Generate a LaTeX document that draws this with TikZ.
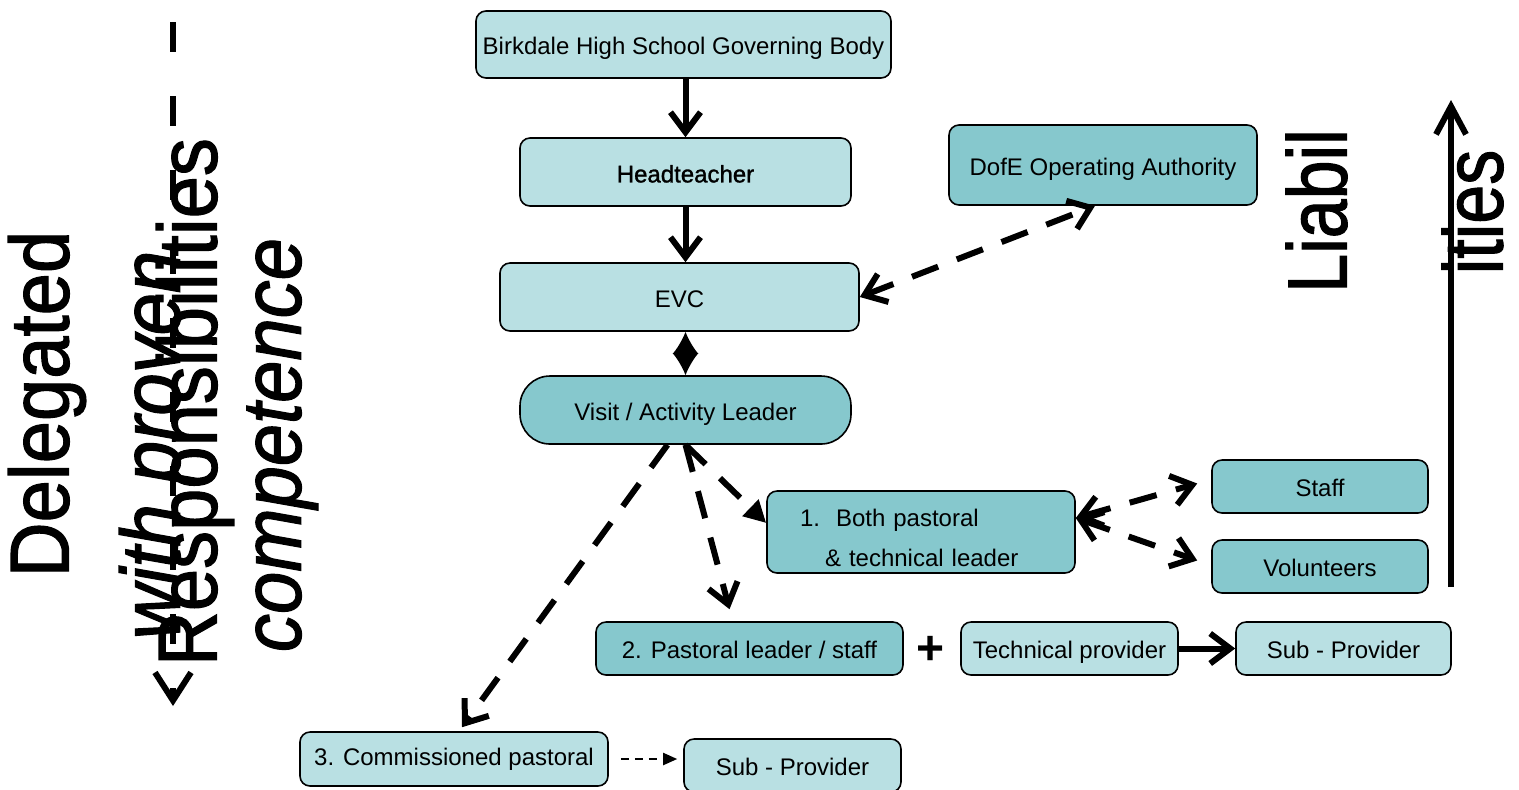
\documentclass[tikz,border=0pt]{standalone}
\usepackage{fontspec}
\setmainfont{Liberation Sans}
\newfontfamily\heavyfont[FakeBold=1.2]{Liberation Sans}
\newfontfamily\signfont[FakeBold=1.5]{Liberation Sans}
\usetikzlibrary{calc, arrows.meta}

\definecolor{boxlight}{RGB}{185,224,227}
\definecolor{boxdark}{RGB}{134,200,205}

\newcommand{\tallword}[2][1.1]{\scalebox{1}[#1]{#2}}

\tikzset{
  boxbase/.style={draw, line width=0.8pt, rounded corners=5pt, inner sep=2pt,
    font=\fontsize{12}{14}\selectfont, minimum height=26.5pt},
  box/.style={boxbase, text height=10.4pt, text depth=0pt},
  lightbox/.style={box, fill=boxlight},
  darkbox/.style={box, fill=boxdark},
  bigword/.style={rotate=90, inner sep=0pt, font=\fontsize{38}{55}\signfont},
  barb/.tip={Straight Barb[length=10pt,width=15pt]},
  feed/.style={line width=3pt, -barb},
  dashfeed/.style={feed, dash pattern=on 14pt off 10pt},
  twofeed/.style={dashfeed, barb-barb},
  pointfeed/.style={line width=3pt, dash pattern=on 14pt off 10pt,
    -{Triangle[length=11pt,width=11pt]}},
}

\begin{document}
\begin{tikzpicture}[x=0.5pt, y=-0.5pt]
    \useasboundingbox (0,0) rectangle (1519,789);

    % side texts
    \node[bigword] (deleg) at (47,404) {\tallword{Delegated}};
    \node[bigword] (resp) at (195,402) {\tallword{Responsibilities}};
    \node[bigword, font=\fontsize{38}{55}\signfont\itshape] (proven) at (216,445)
      {\tallword{\begin{tabular}{@{}c@{}}with proven\\competence\end{tabular}}};
    \node[bigword, font=\fontsize{35}{40}\signfont] (liab) at (1316.5,211) {\tallword[1.2]{Liabil}};
    \node[bigword, font=\fontsize{35}{40}\signfont] (ities) at (1472.5,212) {\tallword[1.2]{ities}};
    \coordinate (delegtop) at (173,22);
    \coordinate (delegtip) at (173,706);
    \coordinate (liabbase) at (1451,587);
    \coordinate (liabtop) at (1451,100);
    \draw[line width=3pt, dash pattern=on 15pt off 22pt,
      -{Straight Barb[length=14pt,width=18pt]}] (delegtop) -- (delegtip);
    \draw[line width=3pt, -{Straight Barb[length=14pt,width=15pt]}] (liabbase) -- (liabtop);

    % chain of boxes
    \node[lightbox, minimum width=207.5pt, minimum height=33.5pt] (gov) at (683.5,44.5) {Birkdale High School Governing Body};
    \node[lightbox, minimum width=165.5pt, minimum height=34pt] (head) at (685.5,172) {\heavyfont Headteacher};
    \node[darkbox, minimum width=154pt, minimum height=40pt] (dofe) at (1103,165) {DofE Operating Authority};
    \node[lightbox, minimum width=179.5pt, minimum height=34pt] (evc) at (679.5,297) {EVC};
    \node[darkbox, rounded corners=15pt, minimum width=165.5pt, minimum height=34pt] (leader) at (685.5,410) {Visit / Activity Leader};
    \node[boxbase, fill=boxdark, minimum height=41pt, text width=121pt, inner xsep=16.5pt, align=left,
      font=\fontsize{12}{20}\selectfont] (both) at (921,532)
      {\rule{0pt}{15pt}1.\ \ Both pastoral\\\hspace*{12.5pt}\& technical leader};
    \node[darkbox, minimum width=108pt] (staff) at (1320,486.5) {Staff};
    \node[darkbox, minimum width=108pt] (vol) at (1320,566.5) {Volunteers};
    \node[darkbox, minimum width=153.5pt] (past) at (749.5,648.5) {2. Pastoral leader / staff};
    \node[font=\fontsize{24}{24}\selectfont\bfseries] (plus) at (931,650) {+};
    \node[lightbox, minimum width=108.5pt] (tech) at (1069.5,648.5) {Technical provider};
    \node[lightbox, minimum width=107.5pt] (subone) at (1343.5,648.5) {Sub - Provider};
    \node[lightbox, minimum width=154pt, minimum height=27pt, text height=6.6pt] (comm) at (454,759) {3. Commissioned pastoral};
    \node[lightbox, minimum width=108.5pt] (subtwo) at (792.5,765.5) {Sub - Provider};

    % connectors
    \draw[feed] (head.north |- gov.south) -- (head.north);
    \draw[feed] (head.south) -- (head.south |- evc.north);
    \draw[line width=1pt, {Latex[length=11pt,width=13pt]}-{Latex[length=11pt,width=13pt]}]
      (leader.north |- evc.south) -- (leader.north);
    \draw[twofeed] (evc.east) -- ([xshift=-4pt]dofe.south);
    \draw[pointfeed] (leader.south) -- ([yshift=4.5pt]both.west);
    \draw[dashfeed] (leader.south) -- ([xshift=-10pt,yshift=6pt]past.north);
    \draw[dashfeed] ([xshift=-9pt]leader.south) -- ([xshift=4pt,yshift=2pt]comm.north);
    \draw[twofeed] ([yshift=7pt]both.east) -- ([xshift=-7pt,yshift=1.5pt]staff.west);
    \draw[twofeed] ([yshift=7pt]both.east) -- ([xshift=-7pt,yshift=3pt]vol.west);
    \draw[feed] (tech.east) -- (subone.west);
    \draw[line width=1pt, dash pattern=on 4pt off 3pt, -{Triangle[length=7pt,width=6pt]}]
      ([xshift=6pt]comm.east) -- ([xshift=-3pt]comm.east -| subtwo.west);
\end{tikzpicture}
\end{document}
